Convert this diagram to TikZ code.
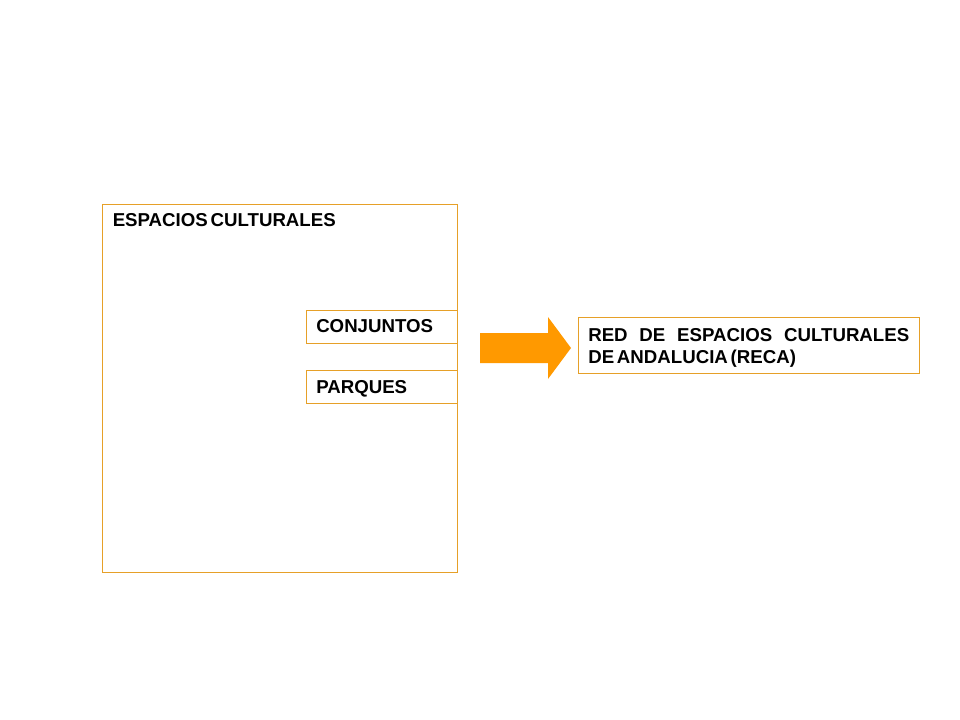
\documentclass[tikz,border=0pt]{standalone}
\usepackage{fontspec}
\setmainfont{Liberation Sans}
\definecolor{boxline}{RGB}{230,160,40}
\definecolor{arrowfill}{RGB}{255,153,0}
\newcommand{\lblfont}{\bfseries\fontsize{14}{16.5}\selectfont\spaceskip=0.15em\relax}
\begin{document}
\begin{tikzpicture}[x=0.75pt,y=-0.75pt,
  box/.style={draw=boxline,line width=0.6pt,fill=white},
  lbl/.style={anchor=base west,inner sep=0pt}]
\useasboundingbox (0,0) rectangle (960,720);
\draw[box] (102,204) rectangle (457,572);
\node[lbl] (esp) at (112.5,227) {\lblfont ESPACIOS CULTURALES};
\draw[box] (306,310) rectangle (457,343);
\node[lbl] (conj) at (316,332) {\lblfont CONJUNTOS};
\draw[box] (306,370) rectangle (457,403);
\node[lbl] (parq) at (316,393) {\lblfont PARQUES};
\fill[arrowfill] (480,333) -- (548,333) -- (548,317) -- (571,348) -- (548,379) -- (548,363) -- (480,363) -- cycle;
\draw[box] (578,317) rectangle (919,373);
\node[lbl] (reca1) at (588,341) {\lblfont\hbox to 240.75pt{RED\hfill DE\hfill ESPACIOS\hfill CULTURALES}};
\node[lbl] (reca2) at (588,363) {\lblfont DE ANDALUCIA (RECA)};
\end{tikzpicture}
\end{document}
